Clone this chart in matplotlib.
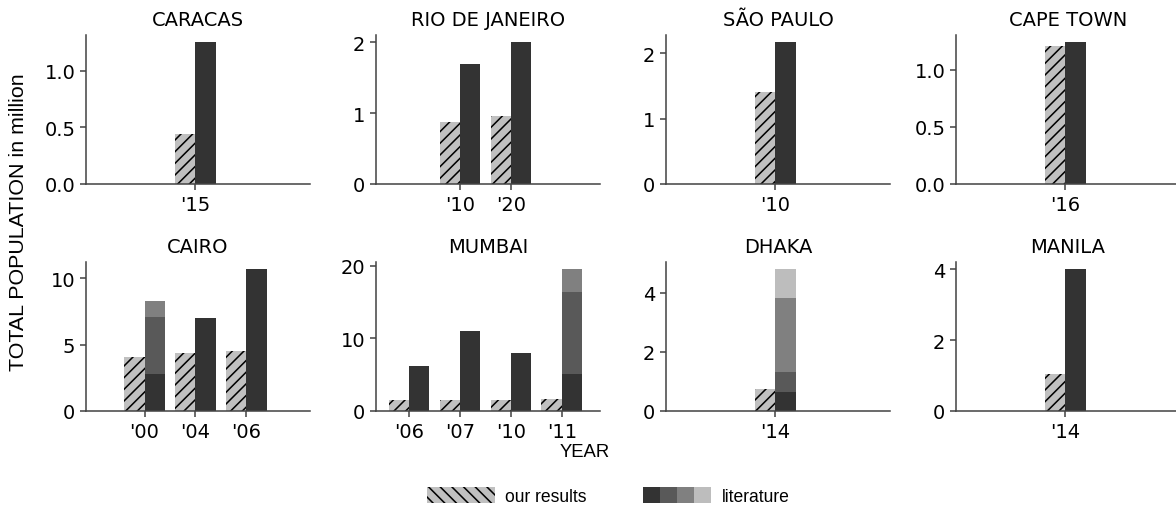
import matplotlib
matplotlib.use("Agg")
import matplotlib.pyplot as plt
from matplotlib.patches import Patch
from matplotlib.legend_handler import HandlerTuple

# cities, years, our estimates and literature values (million)
cities = ["CARACAS", "RIO DE JANEIRO", "SÃO PAULO", "CAPE TOWN",
          "CAIRO", "MUMBAI", "DHAKA", "MANILA"]
years = [["'15"], ["'10", "'20"], ["'10"], ["'16"],
         ["'00", "'04", "'06"], ["'06", "'07", "'10", "'11"], ["'14"], ["'14"]]
ours = [[0.44], [0.88, 0.96], [1.41], [1.21],
        [4.1, 4.4, 4.55], [1.48, 1.48, 1.5, 1.7], [0.74], [1.03]]
literature = [
    [[1.25]],
    [[1.69], [2.0]],
    [[2.17]],
    [[1.24]],
    [[2.8, 7.1, 8.3], [7.0], [10.7]],
    [[6.14], [11.0], [7.98], [5.1, 16.4, 19.55]],
    [[0.63, 1.31, 3.83, 4.79]],
    [[4.0]],
]
yticks = [[0, 0.5, 1.0], [0, 1, 2], [0, 1, 2], [0, 0.5, 1.0],
          [0, 5, 10], [0, 10, 20], [0, 2, 4], [0, 2, 4]]

ours_color = "#c0c0c0"
lit_colors = ["#333333", "#595959", "#808080", "#bdbdbd"]
spine_color = "#444444"

plt.rcParams["hatch.linewidth"] = 0.8
plt.rcParams["font.family"] = "DejaVu Sans"

fig = plt.figure(figsize=(8.4, 3.664), dpi=140)

w = 224 / 1176
for k, city in enumerate(cities):
    row, col = divmod(k, 4)
    left = (86 + 290 * col) / 1176
    bottom = (1 - 185 / 513) if row == 0 else (1 - 412 / 513)
    ax = fig.add_axes([left, bottom, w, 149 / 513])

    n = len(years[k])
    start = (4 - n) / 2
    pos = [start + i for i in range(n)]
    ax.bar([p - 0.2 for p in pos], ours[k], width=0.4, color=ours_color,
           edgecolor="black", linewidth=0, hatch="////")
    for p, vals in zip(pos, literature[k]):
        order = sorted(range(len(vals)), key=lambda j: vals[j])
        for rank in reversed(range(len(order))):
            ax.bar(p + 0.2, vals[order[rank]], width=0.4,
                   color=lit_colors[rank], linewidth=0)

    top = max(max(ours[k]), max(max(v) for v in literature[k])) * 1.05
    ax.set_ylim(0, top)
    ax.set_xlim(-0.65, 3.75)
    ax.set_xticks(pos)
    ax.set_xticklabels(years[k])
    ax.set_yticks(yticks[k])
    ax.set_title(city, fontsize=10, pad=5)
    for s in ["top", "right"]:
        ax.spines[s].set_visible(False)
    for s in ["left", "bottom"]:
        ax.spines[s].set_color(spine_color)
        ax.spines[s].set_linewidth(0.8)
    ax.tick_params(labelsize=10, length=3, width=0.8, color=spine_color, pad=2.5)

fig.text(0.016, 0.567, "TOTAL POPULATION in million", rotation=90,
         ha="center", va="center", fontsize=11, family="Liberation Sans")
fig.text(0.497, 0.117, "YEAR", ha="center", va="center",
         fontsize=9.5, family="Liberation Sans")

h_ours = Patch(facecolor=ours_color, edgecolor="black", linewidth=0,
               hatch="\\\\\\\\")
h_lit = tuple(Patch(facecolor=c, linewidth=0) for c in lit_colors)
fig.legend([h_ours, h_lit], ["our results", "literature"],
           handler_map={tuple: HandlerTuple(ndivide=None, pad=0)},
           loc="center", bbox_to_anchor=(0.517, 0.031), ncol=2, frameon=False,
           prop={"family": "Liberation Sans", "size": 9},
           handlelength=3.9, handleheight=1.05, handletextpad=0.6,
           columnspacing=3.2)

fig.savefig("out.png", dpi=140)
